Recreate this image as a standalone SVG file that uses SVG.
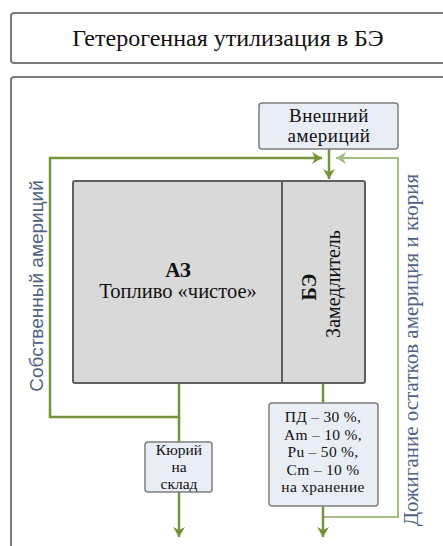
<svg xmlns="http://www.w3.org/2000/svg" width="443" height="546" viewBox="0 0 443 546">
<style>
.frame{fill:#fff;stroke:#7a7a7a;stroke-width:2}
.core{fill:#d9d9d9;stroke:#5f5f5f;stroke-width:2}
.lbl{fill:#e9eef6;stroke:#7f7f7f;stroke-width:1.5}
.g{fill:none;stroke:#77933c;stroke-width:2.5}
.lg{fill:none;stroke:#a4bd84;stroke-width:2}
.t{font-family:"Liberation Serif",serif;fill:#111;text-anchor:middle}
.side{font-family:"Liberation Serif",serif;fill:#4f6285;text-anchor:middle}
.sides{font-family:"Liberation Sans",sans-serif;fill:#4f6285;text-anchor:middle}
</style>
<defs>
<marker id="ag" markerWidth="12" markerHeight="12" refX="10" refY="6" orient="auto" markerUnits="userSpaceOnUse">
<path d="M0,0 L10,6 L0,12 L3,6 Z" fill="#77933c"/>
</marker>
<marker id="alg" markerWidth="12" markerHeight="12" refX="10" refY="6" orient="auto" markerUnits="userSpaceOnUse">
<path d="M0,0 L10,6 L0,12 L3,6 Z" fill="#a4bd84"/>
</marker>
</defs>
<g id="title">
<rect x="11" y="13" width="440" height="50" rx="3" class="frame"/>
<text x="228" y="46" class="t" font-size="24">Гетерогенная утилизация в БЭ</text>
</g>
<g id="outer">
<rect x="11" y="77" width="440" height="480" rx="3" class="frame"/>
</g>
<g id="connectors">
<polyline class="g" points="179,383 179,417 50,417 50,158 322,158" marker-end="url(#ag)"/>
<polyline class="lg" points="323,517 398,517 398,158 336,158" marker-end="url(#alg)"/>
<line class="g" x1="329" y1="149" x2="329" y2="179" marker-end="url(#ag)"/>
<line class="g" x1="179" y1="417" x2="179" y2="442"/>
<line class="g" x1="179" y1="492" x2="179" y2="537" marker-end="url(#ag)"/>
<line class="g" x1="323" y1="383" x2="323" y2="403"/>
<line class="g" x1="323" y1="506" x2="323" y2="537" marker-end="url(#ag)"/>
</g>
<g id="az">
<rect x="73" y="181" width="292" height="202" rx="2" class="core"/>
<line x1="282" y1="181" x2="282" y2="383" stroke="#5f5f5f" stroke-width="2"/>
<text x="178" y="277" class="t" font-size="21" font-weight="bold">АЗ</text>
<text x="178" y="298" class="t" font-size="20.5">Топливо «чистое»</text>
</g>
<g id="be">
<text transform="translate(316,287) rotate(-90)" class="t" font-size="20" font-weight="bold">БЭ</text>
<text transform="translate(340,284) rotate(-90)" class="t" font-size="20">Замедлитель</text>
</g>
<g id="ext">
<rect x="259" y="103" width="139" height="46" rx="3" class="lbl"/>
<text x="329" y="122" class="t" font-size="19" letter-spacing="0.5">Внешний</text>
<text x="329" y="142" class="t" font-size="19" letter-spacing="0.5">америций</text>
</g>
<g id="curium">
<rect x="145" y="442" width="67" height="50" rx="3" class="lbl"/>
<text x="179" y="455" class="t" font-size="15.5">Кюрий</text>
<text x="179" y="472" class="t" font-size="15.5">на</text>
<text x="179" y="489" class="t" font-size="15.5">склад</text>
</g>
<g id="storage">
<rect x="269" y="403" width="109" height="103" rx="3" class="lbl"/>
<text x="323" y="422" class="t" font-size="15.5" letter-spacing="0.3">ПД – 30 %,</text>
<text x="323" y="439.5" class="t" font-size="15.5" letter-spacing="0.3">Am – 10 %,</text>
<text x="323" y="457" class="t" font-size="15.5" letter-spacing="0.3">Pu – 50 %,</text>
<text x="323" y="474.5" class="t" font-size="15.5" letter-spacing="0.3">Cm – 10 %</text>
<text x="323" y="492" class="t" font-size="15.5" letter-spacing="0.3">на хранение</text>
</g>
<g id="own">
<text transform="translate(43,286) rotate(-90)" class="sides" font-size="19">Собственный америций</text>
</g>
<g id="burn">
<text transform="translate(418,350) rotate(-90)" class="side" font-size="21">Дожигание остатков америция и кюрия</text>
</g>
</svg>
